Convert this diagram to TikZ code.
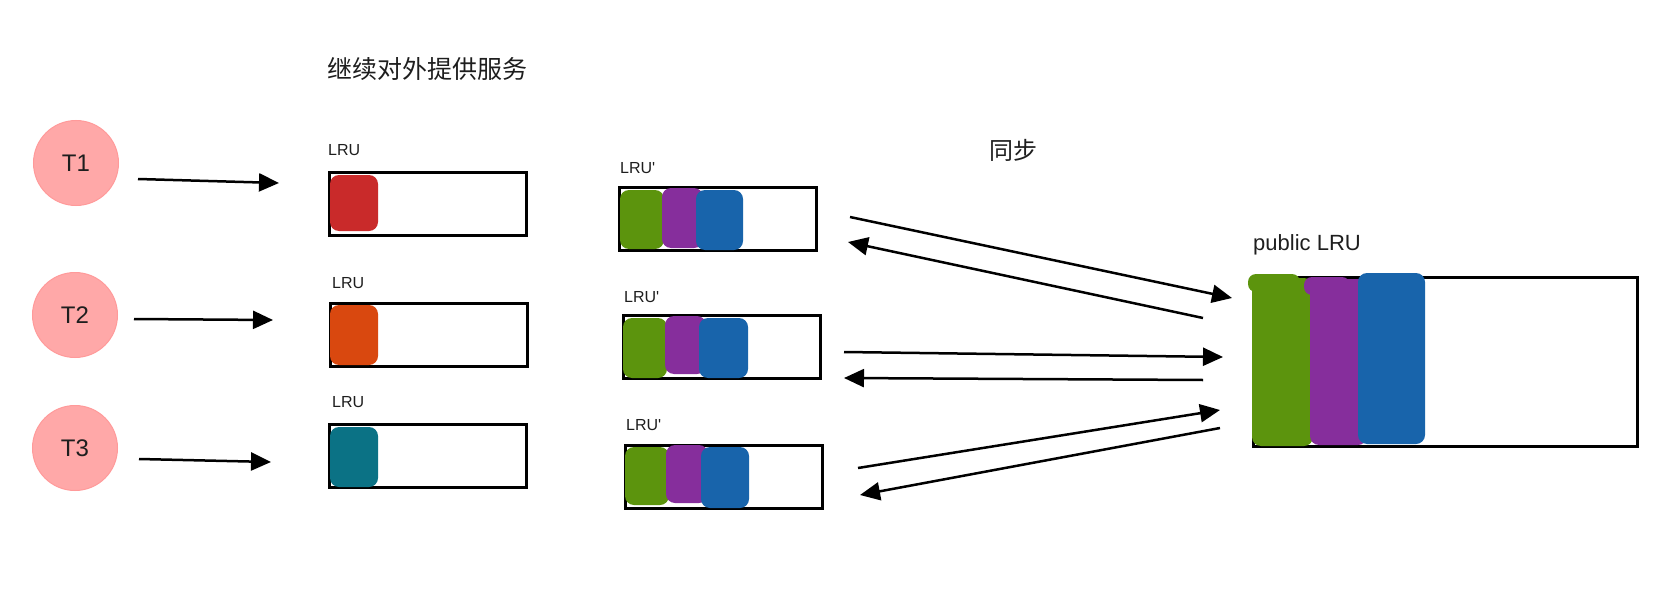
\documentclass[tikz,border=0pt]{standalone}
\usepackage{fontspec}
\setmainfont{Liberation Sans}
\newfontfamily\cjk{Noto Sans CJK SC}
\usetikzlibrary{arrows.meta}
\definecolor{tpink}{HTML}{FFA8A8}
\definecolor{tpinkd}{HTML}{FF9A9A}
\definecolor{cred}{HTML}{C92A2A}
\definecolor{corange}{HTML}{D9480F}
\definecolor{cteal}{HTML}{0B7285}
\definecolor{cgreen}{HTML}{5C940D}
\definecolor{cpurple}{HTML}{862E9C}
\definecolor{cblue}{HTML}{1864AB}
\definecolor{ink}{HTML}{1E1E1E}
\begin{document}
\begin{tikzpicture}[x=1pt,y=-1pt,
  tnode/.style={circle, fill=tpink, draw=tpinkd, line width=1pt, minimum size=85pt, inner sep=0pt, text=ink, font=\fontsize{24}{28}\selectfont},
  lrubox/.style={draw=black, line width=3pt, inner sep=0pt, minimum width=197pt, minimum height=63pt},
  smalllbl/.style={anchor=west, inner sep=0pt, text=ink, font=\fontsize{16}{19}\selectfont},
  biglbl/.style={anchor=west, inner sep=0pt, text=ink, font=\fontsize{22}{26}\selectfont},
  cjklbl/.style={anchor=west, inner sep=0pt, text=ink, font=\cjk\fontsize{25}{30}\selectfont},
  arr/.style={draw=black, line width=2.5pt, -{Triangle[length=20pt,width=18pt]}},
  blk/.style={rounded corners=9pt}
]
\useasboundingbox (0,0) rectangle (1671,610);

% texts
\node[cjklbl] (title) at (327,69) {继续对外提供服务};
\node[cjklbl, font=\cjk\fontsize{24}{28}\selectfont] (sync) at (989,150) {同步};

% threads
\node[tnode] (t1) at (76,163) {T1};
\node[tnode] (t2) at (75,315) {T2};
\node[tnode] (t3) at (75,448) {T3};

% LRU boxes
\node[lrubox] (lru1) at (427.5,203.5) {};
\node[lrubox] (lru2) at (429,335) {};
\node[lrubox] (lru3) at (428,456) {};
\node[smalllbl] (l1) at (328,150) {LRU};
\node[smalllbl] (l2) at (332,283) {LRU};
\node[smalllbl] (l3) at (332,402) {LRU};
\fill[cred, blk] (330,175) rectangle (378,231);
\fill[corange, blk] (330,305) rectangle (378,365);
\fill[cteal, blk] (330,427) rectangle (378,487);

% LRU' boxes
\node[lrubox] (p1) at (717.5,219) {};
\node[lrubox] (p2) at (721.5,347) {};
\node[lrubox] (p3) at (723.5,476.5) {};
\node[smalllbl] (pl1) at (620,168) {LRU\textquotesingle};
\node[smalllbl] (pl2) at (624,297) {LRU\textquotesingle};
\node[smalllbl] (pl3) at (626,425) {LRU\textquotesingle};
\fill[cgreen, blk] (620,190) rectangle (664,249);
\fill[cpurple, blk] (662,188) rectangle (703,248);
\fill[cblue, blk] (696,190) rectangle (743,250);
\fill[cgreen, blk] (623,318) rectangle (667,378);
\fill[cpurple, blk] (665,316) rectangle (706,374);
\fill[cblue, blk] (699,318) rectangle (748,378);
\fill[cgreen, blk] (625,447) rectangle (669,505);
\fill[cpurple, blk] (666,445) rectangle (708,503);
\fill[cblue, blk] (701,447) rectangle (749,508);

% public LRU
\node[lrubox, minimum width=384pt, minimum height=169pt] (pub) at (1445,361.5) {};
\node[biglbl] (publbl) at (1253,245) {public LRU};
\fill[cgreen, blk] (1252,278) rectangle (1313,446);
\fill[cgreen, rounded corners=8pt] (1248,274) rectangle (1300,292);
\fill[cpurple, blk] (1310,279) rectangle (1367,445);
\fill[cpurple, rounded corners=8pt] (1304,277) rectangle (1350,295);
\fill[cblue, blk] (1358,273) rectangle (1425,444);

% arrow end points
\coordinate (a1s) at (138,179);  \coordinate (a1e) at (279,183);
\coordinate (a2s) at (134,319);  \coordinate (a2e) at (273,320);
\coordinate (a3s) at (139,459);  \coordinate (a3e) at (271,462);
\draw[arr] (a1s) -- (a1e);
\draw[arr] (a2s) -- (a2e);
\draw[arr] (a3s) -- (a3e);

\coordinate (s1a) at (850,217);  \coordinate (s1b) at (1232,298);
\coordinate (s2a) at (1203,318); \coordinate (s2b) at (848,242);
\coordinate (s3a) at (844,352);  \coordinate (s3b) at (1223,357);
\coordinate (s4a) at (1203,380); \coordinate (s4b) at (844,378);
\coordinate (s5a) at (858,468);  \coordinate (s5b) at (1220,410);
\coordinate (s6a) at (1220,428); \coordinate (s6b) at (860,495);
\draw[arr] (s1a) -- (s1b);
\draw[arr] (s2a) -- (s2b);
\draw[arr] (s3a) -- (s3b);
\draw[arr] (s4a) -- (s4b);
\draw[arr] (s5a) -- (s5b);
\draw[arr] (s6a) -- (s6b);
\end{tikzpicture}
\end{document}
